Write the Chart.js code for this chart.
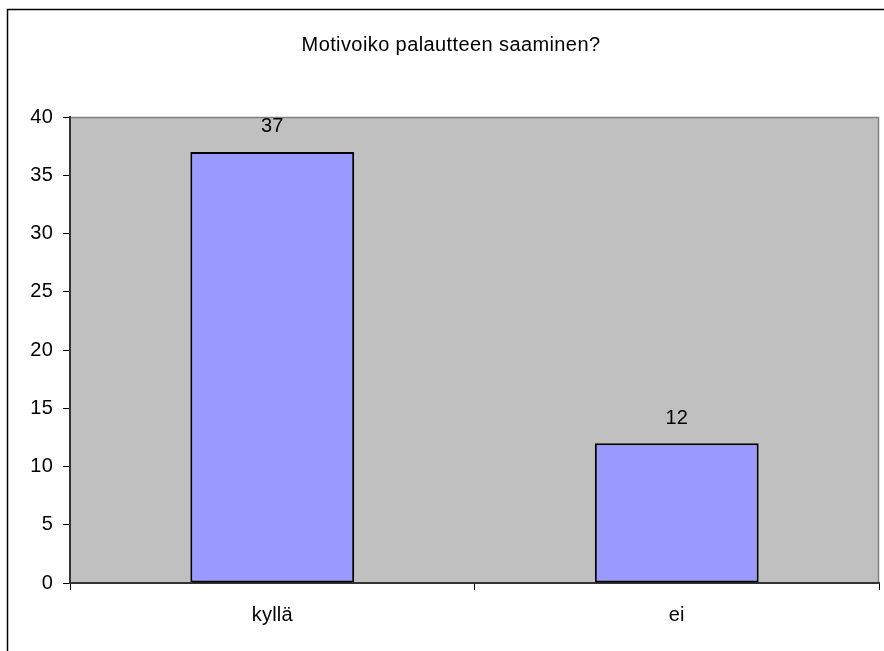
<!DOCTYPE html>
<html>
<head>
<meta charset="utf-8">
<script src="https://cdn.jsdelivr.net/npm/chart.js@4/dist/chart.umd.min.js"></script>
<style>
html,body{margin:0;padding:0;background:#fff;}
#wrap{width:884px;height:651px;position:relative;}
</style>
</head>
<body>
<div id="wrap"><canvas id="c" width="884" height="651"></canvas></div>
<script>
const categories = ["kyllä", "ei"];
const values = [37, 12];
const yTicks = [0, 5, 10, 15, 20, 25, 30, 35, 40];
const chartTitle = "Motivoiko palautteen saaminen?";

const FONT = "'Liberation Sans', Arial, sans-serif";
const FS = 20;

const framePlugin = {
  id: 'frame',
  beforeDraw(chart) {
    const ctx = chart.ctx;
    const a = chart.chartArea;
    ctx.save();
    ctx.fillStyle = '#ffffff';
    ctx.fillRect(0, 0, chart.width, chart.height);
    ctx.strokeStyle = '#000000';
    ctx.lineWidth = 1.5;
    ctx.strokeRect(7.5, 9.5, 900, 700);
    ctx.fillStyle = '#C0C0C0';
    ctx.fillRect(a.left, a.top, a.right - a.left, a.bottom - a.top);
    ctx.strokeStyle = '#808080';
    ctx.lineWidth = 1.5;
    ctx.beginPath();
    ctx.moveTo(a.left, a.top + 0.5);
    ctx.lineTo(a.right - 0.5, a.top + 0.5);
    ctx.lineTo(a.right - 0.5, a.bottom);
    ctx.stroke();
    // title
    ctx.fillStyle = '#000';
    ctx.font = FS + "px " + FONT;
    ctx.letterSpacing = '0.4px';
    ctx.textAlign = 'center';
    ctx.textBaseline = 'middle';
    ctx.fillText(chartTitle, 451, 45);
    ctx.restore();
    chart.ctx.letterSpacing = '0.2px';
  },
  afterDatasetsDraw(chart) {
    const ctx = chart.ctx;
    const meta = chart.getDatasetMeta(0);
    ctx.save();
    ctx.fillStyle = '#000';
    ctx.font = FS + "px " + FONT;
    ctx.textAlign = 'center';
    ctx.textBaseline = 'middle';
    meta.data.forEach((el, i) => {
      ctx.fillText(String(values[i]), el.x, el.y - 25);
    });
    ctx.restore();
  }
};

new Chart(document.getElementById('c'), {
  type: 'bar',
  data: {
    labels: categories,
    datasets: [{
      data: values,
      backgroundColor: '#9999FF',
      borderColor: '#000000',
      borderWidth: 2,
      borderSkipped: false,
      categoryPercentage: 1.0,
      barPercentage: 0.405
    }]
  },
  options: {
    responsive: false,
    animation: false,
    devicePixelRatio: 1,
    layout: { padding: { top: 117, left: 0, right: 5, bottom: 0 } },
    plugins: {
      legend: { display: false },
      tooltip: { enabled: false },
      title: { display: false }
    },
    scales: {
      x: {
        grid: { display: true, offset: true, drawOnChartArea: false, drawTicks: true, tickLength: 7, color: '#000' },
        border: { display: true, color: '#333', width: 2 },
        ticks: { color: '#000', font: { family: FONT, size: FS }, padding: 13 },
        afterFit(s) { s.height = 68; }
      },
      y: {
        min: 0, max: 40,
        afterBuildTicks(s) { s.ticks = yTicks.map(v => ({ value: v })); },
        grid: { display: true, drawOnChartArea: false, drawTicks: true, tickLength: 7, color: '#000' },
        border: { display: true, color: '#333', width: 2 },
        ticks: { color: '#000', font: { family: FONT, size: FS }, padding: 10 },
        afterFit(s) { s.width = 70; }
      }
    }
  },
  plugins: [framePlugin]
});
</script>
</body>
</html>
